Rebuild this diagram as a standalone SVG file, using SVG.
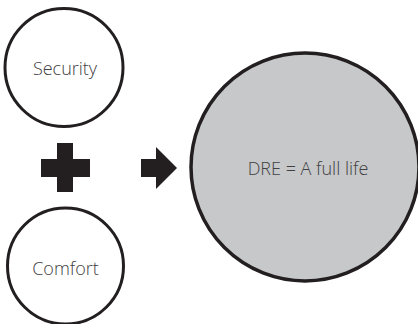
<svg xmlns="http://www.w3.org/2000/svg" width="418" height="324" viewBox="0 0 418 324">
<style>
.c{fill:#fff;stroke:#231f20;stroke-width:3}
.big{fill:#c7c8ca;stroke:#231f20;stroke-width:3.5}
.t{font-family:"Open Sans","Noto Sans",sans-serif;font-weight:300;font-size:18px;fill:#414042;text-anchor:middle;dominant-baseline:central}
.sym{fill:#231f20}
</style>
<rect width="418" height="324" fill="#fff"/>
<g id="security">
<circle class="c" cx="64" cy="67.5" r="59"/>
<text class="t" x="65" y="68">Security</text>
</g>
<g id="comfort">
<circle class="c" cx="65.5" cy="266" r="58"/>
<text class="t" x="65.5" y="267.5">Comfort</text>
</g>
<g id="dre">
<circle class="big" cx="305" cy="167" r="114"/>
<text class="t" x="308" y="167.5">DRE = A full life</text>
</g>
<g id="connectors">
<path class="sym" d="M57,143H73V159H90V177H73V192H57V177H41V159H57Z"/>
<path class="sym" d="M141,159H156V147L177,168L156,189V177H141Z"/>
</g>
</svg>
